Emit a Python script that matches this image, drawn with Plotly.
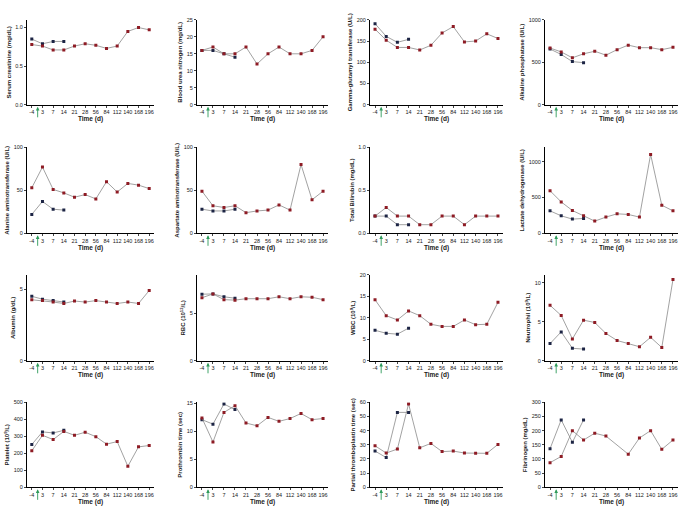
import plotly.graph_objects as go

# ---------------- data ----------------
days = ["-4", "3", "7", "14", "21", "28", "56", "84", "112", "140", "168", "196"]

titles = [
    "Serum creatinine (mg/dL)", "Blood urea nitrogen (mg/dL)",
    "Gamma-glutamyl transferase (U/L)", "Alkaline phosphatase (U/L)",
    "Alanine aminotransferase (U/L)", "Aspartate aminotransferase (U/L)",
    "Total Bilirubin (mg/dL)", "Lactate dehydrogenase (U/L)",
    "Albumin (g/dL)", "RBC (10<sup>12</sup>/L)",
    "WBC (10<sup>9</sup>/L)", "Neutrophil (10<sup>9</sup>/L)",
    "Platelet (10<sup>9</sup>/L)", "Prothrombin time (sec)",
    "Partial thromboplastin time (sec)", "Fibrinogen (mg/dL)",
]

creat_red = [0.78, 0.76, 0.71, 0.71, 0.76, 0.79, 0.77, 0.73, 0.76, 0.95, 1.0, 0.97]
creat_navy = [0.85, 0.79, 0.82, 0.82]
bun_red = [16, 17, 15, 15, 17, 12, 15, 17, 15, 15, 16, 20]
bun_navy = [16, 16, 15, 14]
ggt_red = [178, 152, 135, 135, 129, 140, 169, 184, 148, 150, 167, 156]
ggt_navy = [191, 161, 147, 154]
alp_red = [668, 622, 553, 600, 630, 584, 649, 702, 672, 672, 649, 676]
alp_navy = [656, 592, 508, 496]
alt_red = [53, 77, 51, 47, 42, 45, 40, 60, 48, 58, 56, 52]
alt_navy = [22, 37, 28, 27]
ast_red = [49, 32, 30, 32, 24, 26, 27, 33, 27, 80, 39, 49]
ast_navy = [28, 26, 26, 28]
tbil_red = [0.2, 0.3, 0.2, 0.2, 0.1, 0.1, 0.2, 0.2, 0.1, 0.2, 0.2, 0.2]
tbil_navy = [0.2, 0.2, 0.1, 0.1]
ldh_red = [594, 438, 318, 244, 170, 226, 272, 263, 226, 1101, 392, 313]
ldh_navy = [313, 244, 198, 207]
alb_red = [4.26, 4.2, 4.1, 4.0, 4.17, 4.1, 4.2, 4.1, 4.0, 4.1, 4.0, 4.9]
alb_navy = [4.5, 4.3, 4.2, 4.1]
rbc_red = [6.6, 7.0, 6.4, 6.35, 6.5, 6.5, 6.5, 6.7, 6.5, 6.7, 6.65, 6.4]
rbc_navy = [6.97, 7.0, 6.7, 6.55]
wbc_red = [14.2, 10.5, 9.5, 11.6, 10.5, 8.5, 8.0, 8.0, 9.5, 8.4, 8.5, 13.6]
wbc_navy = [7.1, 6.4, 6.2, 7.6]
neu_red = [7.1, 5.8, 2.8, 5.2, 4.9, 3.5, 2.6, 2.2, 1.8, 3.0, 1.7, 10.4]
neu_navy = [2.2, 3.7, 1.6, 1.5]
plt_red = [215, 306, 281, 329, 306, 324, 298, 254, 269, 124, 238, 246]
plt_navy = [252, 326, 320, 335]
pt_red = [12.4, 8.1, 13.4, 14.6, 11.5, 11.0, 12.5, 11.8, 12.3, 13.2, 12.1, 12.3]
pt_navy = [12.1, 11.3, 14.9, 13.9]
ptt_red = [29.3, 24.2, 27.0, 58.9, 27.9, 31.0, 25.2, 25.6, 24.2, 24.0, 24.0, 30.3]
ptt_navy = [25.6, 21.0, 52.9, 52.9]
fib_red = [87, 109, 200, 167, 191, 181, None, 117, 174, 200, 134, 167]
fib_navy = [136, 238, 159, 238]

red_series = [creat_red, bun_red, ggt_red, alp_red, alt_red, ast_red, tbil_red, ldh_red,
              alb_red, rbc_red, wbc_red, neu_red, plt_red, pt_red, ptt_red, fib_red]
navy_series = [creat_navy, bun_navy, ggt_navy, alp_navy, alt_navy, ast_navy, tbil_navy, ldh_navy,
               alb_navy, rbc_navy, wbc_navy, neu_navy, plt_navy, pt_navy, ptt_navy, fib_navy]

y_ranges = [[0, 1.1], [0, 25], [0, 200], [0, 1000], [0, 100], [0, 100], [0, 1.0], [0, 1200],
            [0, 6], [0, 9], [0, 20], [0, 11], [0, 500], [0, 15.2], [0, 60], [0, 300]]
y_ticks = [[0, 0.5, 1.0], [0, 5, 10, 15, 20, 25], [0, 50, 100, 150, 200], [0, 500, 1000],
           [0, 50, 100], [0, 50, 100], [0, 0.5, 1.0], [0, 500, 1000],
           [0, 5], [0, 5], [0, 5, 10, 15, 20], [0, 5, 10],
           [0, 100, 200, 300, 400, 500], [0, 5, 10, 15], [0, 10, 20, 30, 40, 50, 60],
           [0, 50, 100, 150, 200, 250, 300]]
y_ticktext = [["0.0", "0.5", "1.0"], None, None, None, None, None, ["0.0", "0.5", "1.0"], None,
              None, None, None, None, None, None, None, None]
x_title = "Time (d)"

# ---------------- layout ----------------
W, H = 700, 518
col_px = [(27, 154), (197, 328), (370, 503), (545, 678)]
row_px = [(17, 103), (146, 233), (275, 362), (404, 490)]

RED = "#8e1b24"
NAVY = "#1c2444"
LINE = "#8a8a8a"
TXT = "#1a1a1a"
FONT = "Liberation Sans"

fig = go.Figure()
layout = dict(
    width=W, height=H, margin=dict(l=0, r=0, t=0, b=0),
    paper_bgcolor="white", plot_bgcolor="white", showlegend=False,
    font=dict(family=FONT, size=6, color=TXT),
)
annotations = []
xpos = list(range(len(days)))

for i in range(16):
    r, c = divmod(i, 4)
    n = i + 1
    xa = "x" if n == 1 else f"x{n}"
    ya = "y" if n == 1 else f"y{n}"
    x0, x1 = col_px[c]
    y0, y1 = row_px[r]
    fig.add_trace(go.Scatter(
        x=xpos[:4], y=navy_series[i], mode="lines+markers", xaxis=xa, yaxis=ya,
        line=dict(color=LINE, width=0.8),
        marker=dict(color=NAVY, size=3, symbol="square"),
    ))
    fig.add_trace(go.Scatter(
        x=xpos, y=red_series[i], mode="lines+markers", xaxis=xa, yaxis=ya, connectgaps=True,
        line=dict(color=LINE, width=0.8),
        marker=dict(color=RED, size=3, symbol="square"),
    ))
    layout[f"xaxis{'' if n == 1 else n}"] = dict(
        domain=[x0 / W, x1 / W], anchor=ya, range=[-0.45, 11.45],
        tickmode="array", tickvals=xpos, ticktext=days, tickangle=0,
        showline=True, linecolor="black", linewidth=1, ticks="outside", ticklen=2,
        tickwidth=0.8, tickfont=dict(size=5.5, family=FONT, color=TXT),
        showgrid=False, zeroline=False,
        title=dict(text=x_title, font=dict(size=6.5, family=FONT, color=TXT, weight="bold"), standoff=1),
    )
    yax = dict(
        domain=[1 - y1 / H, 1 - y0 / H], anchor=xa, range=y_ranges[i],
        tickmode="array", tickvals=y_ticks[i],
        showline=True, linecolor="black", linewidth=1, ticks="outside", ticklen=2,
        tickwidth=0.8, tickfont=dict(size=5.5, family=FONT, color=TXT),
        showgrid=False, zeroline=False,
        title=dict(text=titles[i], font=dict(size=6, family=FONT, color=TXT, weight="bold"), standoff=3),
    )
    if y_ticktext[i] is not None:
        yax["ticktext"] = y_ticktext[i]
    layout[f"yaxis{'' if n == 1 else n}"] = yax
    annotations.append(dict(
        x=0.55, y=0, xref=xa, yref=f"{ya} domain", text="", showarrow=True,
        ax=0, ay=14, axref="pixel", ayref="pixel",
        arrowhead=2, arrowsize=0.8, arrowwidth=0.9, arrowcolor="#2e9a5a",
        standoff=2,
    ))

layout["annotations"] = annotations
fig.update_layout(**layout)
fig.write_html("out.html", config={"displayModeBar": False, "responsive": False})

# remove the default page margin so the figure sits at the window's origin
with open("out.html", "r", encoding="utf-8") as f:
    html = f.read()
html = html.replace("<head>", "<head><style>html,body{margin:0;padding:0;overflow:hidden;}</style>", 1)
with open("out.html", "w", encoding="utf-8") as f:
    f.write(html)
